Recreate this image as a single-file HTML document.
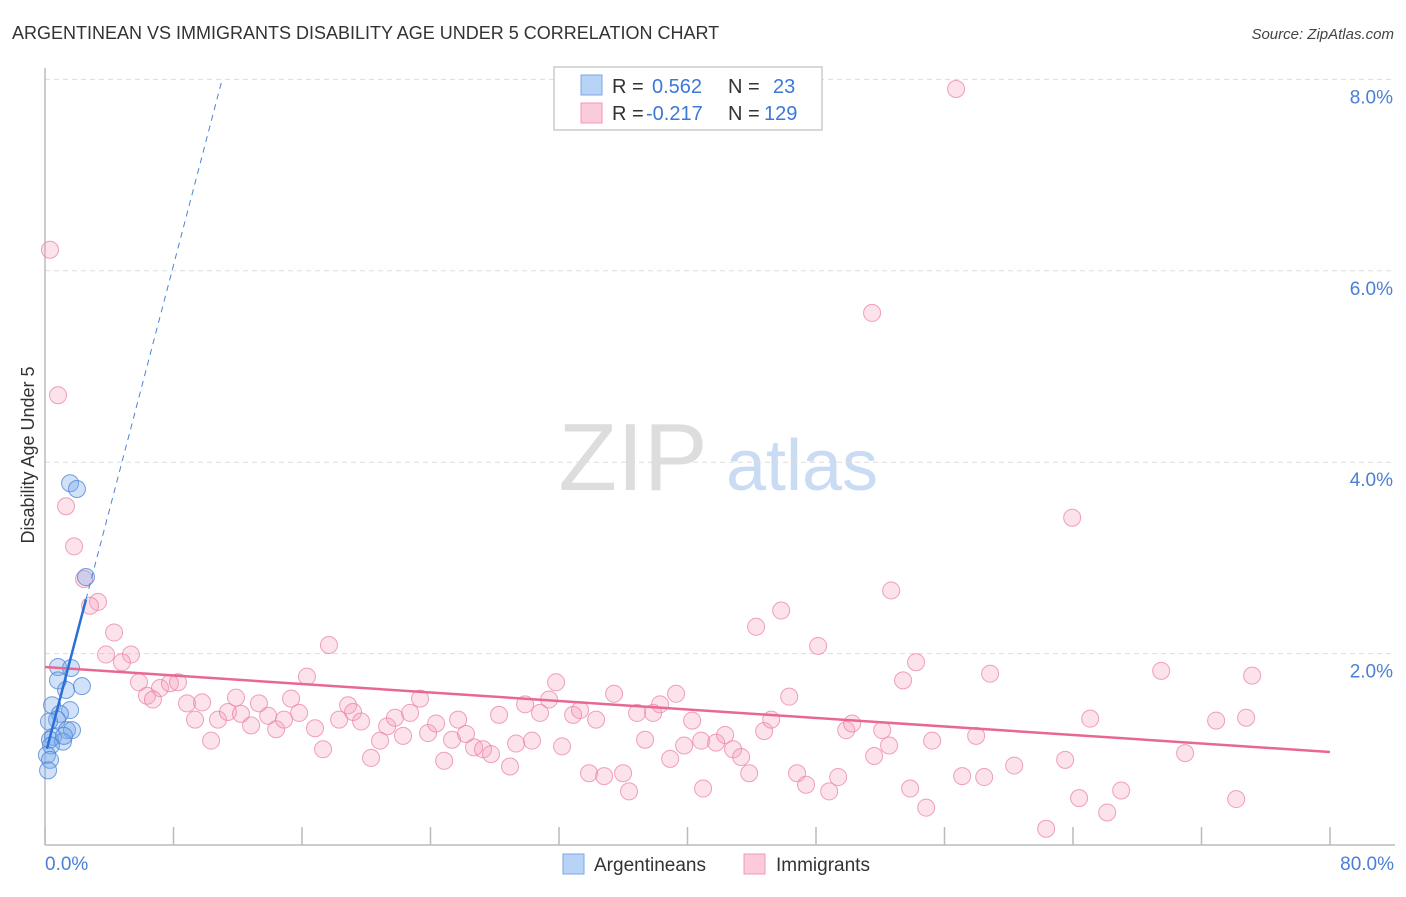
<!DOCTYPE html>
<html><head><meta charset="utf-8"><style>
body{margin:0;background:#fff;font-family:"Liberation Sans",sans-serif}
svg text{font-family:"Liberation Sans",sans-serif}
</style></head><body>
<svg id="chart" width="1406" height="892" viewBox="0 0 1406 892" xmlns="http://www.w3.org/2000/svg">
<text x="12" y="39" font-size="18" fill="#333">ARGENTINEAN VS IMMIGRANTS DISABILITY AGE UNDER 5 CORRELATION CHART</text>
<text x="1394" y="39" font-size="15" font-style="italic" fill="#444" text-anchor="end">Source: ZipAtlas.com</text>
<g>
<text x="633" y="490" font-size="96" font-family="Liberation Serif" fill="#ddd" text-anchor="middle">ZIP</text>
<text x="802" y="490" font-size="72" fill="#c9dcf3" text-anchor="middle">atlas</text>
</g>
<g id="grid"></g>
<g id="axes"></g>
<g id="marks"></g>
<text transform="translate(34,455) rotate(-90)" font-size="18" fill="#333" text-anchor="middle">Disability Age Under 5</text>
<g>
<rect x="554" y="67" width="268" height="63" fill="#fff" stroke="#ccc" stroke-width="1.5"/>
<rect x="581" y="75" width="21" height="20" fill="#b7d3f5" stroke="#7aa7e6"/>
<rect x="581" y="103" width="21" height="20" fill="#fbcbd9" stroke="#f09ab5"/>
<text x="612" y="93" font-size="20" fill="#333">R =</text>
<text x="652" y="93" font-size="20" fill="#3b78d8">0.562</text>
<text x="728" y="93" font-size="20" fill="#333">N =</text>
<text x="773" y="93" font-size="20" fill="#3b78d8">23</text>
<text x="612" y="120" font-size="20" fill="#333">R =</text>
<text x="646" y="120" font-size="20" fill="#3b78d8">-0.217</text>
<text x="728" y="120" font-size="20" fill="#333">N =</text>
<text x="764" y="120" font-size="20" fill="#3b78d8">129</text>
</g>
<g>
<rect x="563" y="854" width="21" height="20" fill="#b7d3f5" stroke="#7aa7e6"/>
<text x="594" y="871" font-size="19" fill="#333">Argentineans</text>
<rect x="744" y="854" width="21" height="20" fill="#fbcbd9" stroke="#f09ab5"/>
<text x="776" y="871" font-size="19" fill="#333">Immigrants</text>
</g>
</svg>
<script>
const blueX=[1.56,1.99,2.55,0.81,1.62,0.81,2.30,1.31,1.56,0.44,0.93,0.75,0.25,1.37,0.50,1.68,0.31,1.12,0.37,0.12,0.31,1.18,0.19];
const blueY=[3.78,3.72,2.80,1.86,1.85,1.72,1.66,1.62,1.41,1.46,1.37,1.31,1.29,1.20,1.13,1.20,1.10,1.08,1.04,0.94,0.89,1.14,0.78];
const pinkX=[0.31,0.81,1.31,1.81,2.43,3.30,2.80,4.30,3.80,5.35,4.79,5.85,7.16,7.78,8.28,6.35,6.72,8.84,9.78,9.34,10.34,10.77,11.39,11.89,12.20,12.83,13.32,13.89,14.39,14.88,15.32,15.82,16.31,16.81,17.31,17.68,18.31,18.87,19.18,19.68,20.30,20.86,21.30,21.79,22.29,22.73,23.35,23.85,24.35,24.85,25.34,25.72,26.21,26.71,27.27,27.77,28.27,28.95,29.33,29.89,30.32,30.82,31.38,31.82,32.19,32.88,33.31,33.87,34.31,34.81,35.43,35.99,36.36,36.86,37.36,37.86,38.29,38.92,39.29,39.79,40.29,40.97,40.85,41.78,42.34,42.84,43.34,43.84,44.27,44.77,45.21,45.83,46.33,46.82,47.38,48.13,48.82,49.38,49.88,50.25,51.49,51.62,52.12,52.55,52.68,53.42,53.86,54.23,54.86,55.23,56.72,57.10,57.97,58.47,58.84,60.34,62.33,63.51,63.95,64.38,65.07,66.13,67.00,69.49,70.98,72.91,74.16,74.78,75.15];
const pinkY=[6.22,4.70,3.54,3.12,2.78,2.54,2.50,2.22,1.99,1.99,1.91,1.70,1.64,1.69,1.70,1.56,1.52,1.48,1.49,1.31,1.09,1.31,1.39,1.54,1.37,1.25,1.48,1.35,1.21,1.31,1.53,1.38,1.76,1.22,1.00,2.09,1.31,1.46,1.39,1.29,0.91,1.09,1.24,1.33,1.14,1.38,1.53,1.17,1.27,0.88,1.10,1.31,1.16,1.02,1.00,0.95,1.36,0.82,1.06,1.47,1.09,1.38,1.52,1.70,1.03,1.36,1.41,0.75,1.31,0.72,1.58,0.75,0.56,1.38,1.10,1.38,1.47,0.90,1.58,1.04,1.30,0.59,1.09,1.07,1.15,1.00,0.92,0.75,2.28,1.19,1.31,2.45,1.55,0.75,0.63,2.08,0.56,0.71,1.20,1.27,5.56,0.93,1.20,1.04,2.66,1.72,0.59,1.91,0.39,1.09,7.90,0.72,1.14,0.71,1.79,0.83,0.17,0.89,3.42,0.49,1.32,0.34,0.57,1.82,0.96,1.30,0.48,1.33,1.77];
const yTicks=[2,4,6,8];
const xTicks=[0,8,16,24,32,40,48,56,64,72,80];
const blueTrend=[0.93,0.641];
const pinkTrend=[1.86,-0.0111];
const NS="http://www.w3.org/2000/svg";
const X0=45,X1=1330,Y0=845,YPX=95.7;
const sx=v=>X0+(v/80)*(X1-X0);
const sy=v=>Y0-v*YPX;
function mk(tag,attrs,parent){const e=document.createElementNS(NS,tag);for(const k in attrs)e.setAttribute(k,attrs[k]);parent.appendChild(e);return e;}
const grid=document.getElementById('grid'),axes=document.getElementById('axes'),marks=document.getElementById('marks');
yTicks.forEach(t=>{
 const l=mk('line',{x1:X0,x2:1395,y1:sy(t),y2:sy(t),stroke:'#ddd','stroke-dasharray':'5,4'},grid);
 
 
 const tx=mk('text',{x:1393,y:sy(t)+24,'font-size':19,fill:'#4a7fd6','text-anchor':'end'},grid);
 tx.textContent=t.toFixed(1)+'%';
 
 
});
const ax=mk('line',{x1:X0,x2:X0,y1:68,y2:Y0,stroke:'#bbb','stroke-width':1.5},axes);


const bx=mk('line',{x1:X0,x2:1395,y1:Y0,y2:Y0,stroke:'#bbb','stroke-width':1.5},axes);


xTicks.forEach(t=>{
 const l=mk('line',{x1:sx(t),x2:sx(t),y1:827,y2:Y0,stroke:'#bbb','stroke-width':1.5},axes);
 
 
});
[[0,'start',45],[80,'end',1394]].forEach(([t,a,x])=>{
 const tx=mk('text',{x:x,y:870,'font-size':19,fill:'#4a7fd6','text-anchor':a},axes);
 tx.textContent=t.toFixed(1)+'%';
 
 
});
pinkX.forEach((v,i)=>{
 const c=mk('circle',{cx:sx(v),cy:sy(pinkY[i]),r:8.5,fill:'rgba(245,160,190,0.3)',stroke:'rgba(235,130,165,0.75)','stroke-width':1},marks);
 
 
});
blueX.forEach((v,i)=>{
 const c=mk('circle',{cx:sx(v),cy:sy(blueY[i]),r:8.5,fill:'rgba(120,170,235,0.35)',stroke:'rgba(70,130,215,0.75)','stroke-width':1},marks);
 
 
});
const pt=mk('line',{x1:sx(0),y1:sy(pinkTrend[0]),x2:sx(80),y2:sy(pinkTrend[0]+pinkTrend[1]*80),stroke:'#e8698f','stroke-width':2.5},marks);


const bMax=Math.max(...blueX),bMin=Math.min(...blueX),xEnd=(8-blueTrend[0])/blueTrend[1];
const bt=mk('line',{x1:sx(bMin),y1:sy(blueTrend[0]+blueTrend[1]*bMin),x2:sx(bMax),y2:sy(blueTrend[0]+blueTrend[1]*bMax),stroke:'#2a6fd8','stroke-width':2.5},marks);


const bd=mk('line',{x1:sx(bMax),y1:sy(blueTrend[0]+blueTrend[1]*bMax),x2:sx(xEnd),y2:sy(8),stroke:'#4a84d8','stroke-width':1,'stroke-dasharray':'6,5'},marks);


</script>
</body></html>
